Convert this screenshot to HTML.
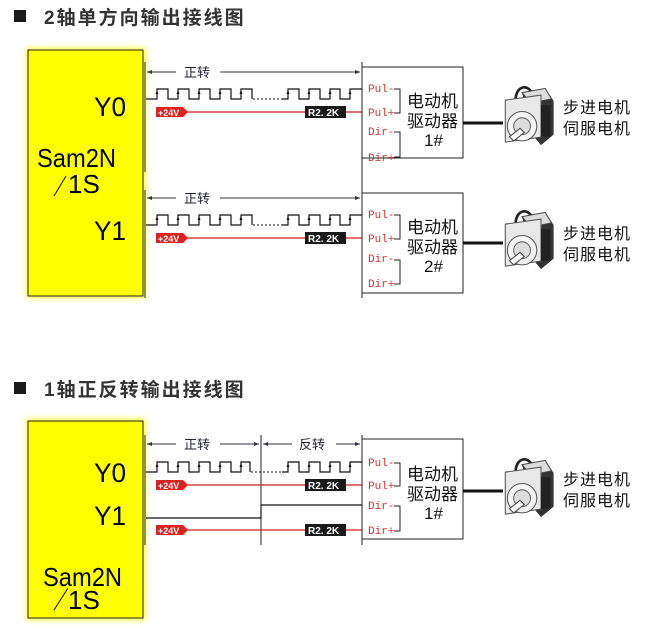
<!DOCTYPE html>
<html><head><meta charset="utf-8">
<style>
html,body{margin:0;padding:0;background:#fff;}
svg{display:block;}
.t{font-family:"Liberation Sans","Noto Sans CJK SC",sans-serif;}
.m{font-family:"Liberation Mono","Noto Sans CJK SC",monospace;}
</style></head><body>
<svg width="660" height="628" viewBox="0 0 660 628" xmlns="http://www.w3.org/2000/svg">
<defs>
<filter id="glow" x="-20%" y="-20%" width="140%" height="140%"><feGaussianBlur stdDeviation="3"/></filter>
<g id="motor">
  <path d="M16 22 C14 6 28 2 32 14" fill="none" stroke="#222" stroke-width="2.5"/>
  <path d="M22 12 L44 8 L52 20 L52 52 L40 62 L30 50 Z" fill="#333"/>
  <path d="M22 12 L44 8 L50 18 L30 22 Z" fill="#ddd" stroke="#444"/>
  <rect x="6" y="20" width="34" height="40" fill="#e8e8e8" stroke="#555" transform="skewY(-8)"/>
  <circle cx="22" cy="44" r="14" fill="#f4f4f4" stroke="#555"/>
  <circle cx="22" cy="44" r="8" fill="#ddd" stroke="#666"/>
  <path d="M10 54 L20 46 L24 50 L14 58 Z" fill="#fff" stroke="#444"/>
  <rect x="40" y="24" width="9" height="30" fill="#222"/>
</g>
</defs>

<rect x="14" y="10" width="12" height="12" fill="#1a1a1a"/>
<text class="t" x="44" y="24" font-size="19" fill="#333" letter-spacing="2" font-weight="bold">2轴单方向输出接线图</text>
<rect x="14" y="382" width="12" height="12" fill="#1a1a1a"/>
<text class="t" x="44" y="396" font-size="19" fill="#333" letter-spacing="2" font-weight="bold">1轴正反转输出接线图</text>

<!-- ======= Diagram 1 ======= -->
<rect x="26" y="48" width="119" height="250" fill="#ffff30" filter="url(#glow)"/>
<rect x="28" y="50" width="115" height="246" fill="#ffff00" stroke="#222" stroke-width="1"/>
<text class="t" x="94" y="116" font-size="27" fill="#000" textLength="32" lengthAdjust="spacingAndGlyphs">Y0</text>
<text class="t" x="94" y="240" font-size="27" fill="#000" textLength="32" lengthAdjust="spacingAndGlyphs">Y1</text>
<text class="t" x="37" y="167" font-size="26" fill="#000" textLength="79" lengthAdjust="spacingAndGlyphs">Sam2N</text>
<text class="t" x="68" y="193" font-size="26" fill="#000">1S</text>
<line x1="54" y1="196" x2="66" y2="176" stroke="#000" stroke-width="1"/>

<line x1="145" y1="62" x2="145" y2="172" stroke="#222"/>
<line x1="145" y1="190" x2="145" y2="298" stroke="#222"/>
<line x1="362" y1="62" x2="362" y2="298" stroke="#222"/>

<g>
<line x1="147" y1="72" x2="176" y2="72" stroke="#334" /><path d="M147 72 l5 -2 v4 z" fill="#334"/>
<text class="t" x="184" y="77" font-size="13" fill="#223">正转</text>
<line x1="220" y1="72" x2="360" y2="72" stroke="#334"/><path d="M360 72 l-5 -2 v4 z" fill="#334"/>
<path d="M146 99 H157 V89 H168 V99 H178 V89 H189 V99 H199 V89 H210 V99 H220 V89 H231 V99 H241 V89 H252 V99" fill="none" stroke="#111" stroke-width="1.2"/>
<line x1="253" y1="99" x2="288" y2="99" stroke="#111" stroke-dasharray="2 2"/>
<path d="M282 99 H288 V89 H299 V99 H309 V89 H320 V99 H330 V89 H340 V99 H350 V89 H362" fill="none" stroke="#111" stroke-width="1.2"/>
<g fill="#111"><path d="M157 90 l-1.5 4 h3z"/><path d="M178 90 l-1.5 4 h3z"/><path d="M199 90 l-1.5 4 h3z"/><path d="M220 90 l-1.5 4 h3z"/><path d="M241 90 l-1.5 4 h3z"/><path d="M288 90 l-1.5 4 h3z"/><path d="M309 90 l-1.5 4 h3z"/><path d="M330 90 l-1.5 4 h3z"/><path d="M350 90 l-1.5 4 h3z"/></g>
<line x1="185" y1="112" x2="362" y2="112" stroke="#c22" stroke-width="1.2"/>
<path d="M156 107 H183 L188 112 L183 117 H156 Z" fill="#d22"/>
<text class="t" x="158" y="116" font-size="9" font-weight="bold" fill="#fff">+24V</text>
<rect x="305" y="106" width="41" height="12" fill="#1a1a1a"/>
<text class="t" x="308" y="116" font-size="10" font-weight="bold" fill="#fff">R2. 2K</text>
</g>

<g>
<rect x="362" y="67" width="101" height="91" fill="#fff" stroke="#222"/>
<text class="m" x="368" y="92" font-size="11" fill="#c33">Pul-</text>
<text class="m" x="368" y="116" font-size="11" fill="#c33">Pul+</text>
<text class="m" x="368" y="135" font-size="11" fill="#c33">Dir-</text>
<text class="m" x="368" y="161" font-size="11" fill="#c33">Dir+</text>
<path d="M394 89 H400 V113 H394 M394 132 H400 V157 H394" fill="none" stroke="#222"/>
<text class="t" x="407" y="107" font-size="17" fill="#111">电动机</text>
<text class="t" x="407" y="127" font-size="17" fill="#111">驱动器</text>
<text class="t" x="424" y="146" font-size="17" fill="#111">1#</text>
<line x1="463" y1="123" x2="503" y2="123" stroke="#111" stroke-width="3"/>
<use href="#motor" transform="translate(499,80) scale(1.05)"/>
<text class="t" x="563" y="113" font-size="16" fill="#111" letter-spacing="1">步进电机</text>
<text class="t" x="563" y="134" font-size="16" fill="#111" letter-spacing="1">伺服电机</text>
</g>

<g transform="translate(0,126)">
<line x1="147" y1="72" x2="176" y2="72" stroke="#334" /><path d="M147 72 l5 -2 v4 z" fill="#334"/>
<text class="t" x="184" y="77" font-size="13" fill="#223">正转</text>
<line x1="220" y1="72" x2="360" y2="72" stroke="#334"/><path d="M360 72 l-5 -2 v4 z" fill="#334"/>
<path d="M146 99 H157 V89 H168 V99 H178 V89 H189 V99 H199 V89 H210 V99 H220 V89 H231 V99 H241 V89 H252 V99" fill="none" stroke="#111" stroke-width="1.2"/>
<line x1="253" y1="99" x2="288" y2="99" stroke="#111" stroke-dasharray="2 2"/>
<path d="M282 99 H288 V89 H299 V99 H309 V89 H320 V99 H330 V89 H340 V99 H350 V89 H362" fill="none" stroke="#111" stroke-width="1.2"/>
<g fill="#111"><path d="M157 90 l-1.5 4 h3z"/><path d="M178 90 l-1.5 4 h3z"/><path d="M199 90 l-1.5 4 h3z"/><path d="M220 90 l-1.5 4 h3z"/><path d="M241 90 l-1.5 4 h3z"/><path d="M288 90 l-1.5 4 h3z"/><path d="M309 90 l-1.5 4 h3z"/><path d="M330 90 l-1.5 4 h3z"/><path d="M350 90 l-1.5 4 h3z"/></g>
<line x1="185" y1="112" x2="362" y2="112" stroke="#c22" stroke-width="1.2"/>
<path d="M156 107 H183 L188 112 L183 117 H156 Z" fill="#d22"/>
<text class="t" x="158" y="116" font-size="9" font-weight="bold" fill="#fff">+24V</text>
<rect x="305" y="106" width="41" height="12" fill="#1a1a1a"/>
<text class="t" x="308" y="116" font-size="10" font-weight="bold" fill="#fff">R2. 2K</text>
<rect x="362" y="67" width="101" height="100" fill="#fff" stroke="#222"/>
<text class="m" x="368" y="92" font-size="11" fill="#c33">Pul-</text>
<text class="m" x="368" y="116" font-size="11" fill="#c33">Pul+</text>
<text class="m" x="368" y="136" font-size="11" fill="#c33">Dir-</text>
<text class="m" x="368" y="161" font-size="11" fill="#c33">Dir+</text>
<path d="M394 89 H400 V113 H394 M394 134 H400 V158 H394" fill="none" stroke="#222"/>
<text class="t" x="407" y="107" font-size="17" fill="#111">电动机</text>
<text class="t" x="407" y="127" font-size="17" fill="#111">驱动器</text>
<text class="t" x="424" y="146" font-size="17" fill="#111">2#</text>
<line x1="463" y1="117" x2="503" y2="117" stroke="#111" stroke-width="3"/>
<use href="#motor" transform="translate(499,78) scale(1.05)"/>
<text class="t" x="563" y="113" font-size="16" fill="#111" letter-spacing="1">步进电机</text>
<text class="t" x="563" y="134" font-size="16" fill="#111" letter-spacing="1">伺服电机</text>
</g>

<!-- ======= Diagram 2 ======= -->
<rect x="26" y="419" width="119" height="201" fill="#ffff30" filter="url(#glow)"/>
<rect x="28" y="421" width="115" height="197" fill="#ffff00" stroke="#222"/>
<text class="t" x="94" y="482" font-size="27" fill="#000" textLength="32" lengthAdjust="spacingAndGlyphs">Y0</text>
<text class="t" x="94" y="525" font-size="27" fill="#000" textLength="32" lengthAdjust="spacingAndGlyphs">Y1</text>
<text class="t" x="43" y="586" font-size="26" fill="#000" textLength="79" lengthAdjust="spacingAndGlyphs">Sam2N</text>
<text class="t" x="68" y="609" font-size="26" fill="#000">1S</text>
<line x1="54" y1="610" x2="68" y2="588" stroke="#000"/>

<line x1="145" y1="435" x2="145" y2="545" stroke="#222"/>
<line x1="261" y1="435" x2="261" y2="545" stroke="#222"/>
<line x1="362" y1="435" x2="362" y2="545" stroke="#222"/>

<line x1="147" y1="444" x2="176" y2="444" stroke="#334"/><path d="M147 444 l5 -2 v4 z" fill="#334"/>
<text class="t" x="184" y="449" font-size="13" fill="#223">正转</text>
<line x1="220" y1="444" x2="259" y2="444" stroke="#334"/><path d="M259 444 l-5 -2 v4 z" fill="#334"/>
<line x1="263" y1="444" x2="292" y2="444" stroke="#334"/><path d="M263 444 l5 -2 v4 z" fill="#334"/>
<text class="t" x="299" y="449" font-size="13" fill="#223">反转</text>
<line x1="336" y1="444" x2="360" y2="444" stroke="#334"/><path d="M360 444 l-5 -2 v4 z" fill="#334"/>

<path d="M146 472 H157 V462 H168 V472 H178 V462 H189 V472 H199 V462 H210 V472 H220 V462 H231 V472 H241 V462 H250 V472" fill="none" stroke="#111" stroke-width="1.2"/>
<line x1="251" y1="472" x2="288" y2="472" stroke="#111" stroke-dasharray="2 2"/>
<path d="M282 472 H288 V462 H299 V472 H309 V462 H320 V472 H330 V462 H340 V472 H350 V462 H362" fill="none" stroke="#111" stroke-width="1.2"/>
<g fill="#111"><path d="M157 463 l-1.5 4 h3z"/><path d="M178 463 l-1.5 4 h3z"/><path d="M199 463 l-1.5 4 h3z"/><path d="M220 463 l-1.5 4 h3z"/><path d="M241 463 l-1.5 4 h3z"/><path d="M288 463 l-1.5 4 h3z"/><path d="M309 463 l-1.5 4 h3z"/><path d="M330 463 l-1.5 4 h3z"/><path d="M350 463 l-1.5 4 h3z"/></g>

<line x1="185" y1="485" x2="362" y2="485" stroke="#c22" stroke-width="1.2"/>
<path d="M156 480 H183 L188 485 L183 490 H156 Z" fill="#d22"/>
<text class="t" x="158" y="489" font-size="9" font-weight="bold" fill="#fff">+24V</text>
<rect x="305" y="479" width="41" height="12" fill="#1a1a1a"/>
<text class="t" x="308" y="489" font-size="10" font-weight="bold" fill="#fff">R2. 2K</text>

<path d="M146 518 H261 V505 H362" fill="none" stroke="#111" stroke-width="1.2"/>

<line x1="185" y1="530" x2="362" y2="530" stroke="#c22" stroke-width="1.2"/>
<path d="M156 525 H183 L188 530 L183 535 H156 Z" fill="#d22"/>
<text class="t" x="158" y="534" font-size="9" font-weight="bold" fill="#fff">+24V</text>
<rect x="305" y="524" width="41" height="12" fill="#1a1a1a"/>
<text class="t" x="308" y="534" font-size="10" font-weight="bold" fill="#fff">R2. 2K</text>

<rect x="362" y="439" width="101" height="100" fill="#fff" stroke="#222"/>
<text class="m" x="368" y="466" font-size="11" fill="#c33">Pul-</text>
<text class="m" x="368" y="489" font-size="11" fill="#c33">Pul+</text>
<text class="m" x="368" y="509" font-size="11" fill="#c33">Dir-</text>
<text class="m" x="368" y="534" font-size="11" fill="#c33">Dir+</text>
<path d="M394 463 H400 V486 H394 M394 506 H400 V531 H394" fill="none" stroke="#222"/>
<text class="t" x="407" y="480" font-size="17" fill="#111">电动机</text>
<text class="t" x="407" y="500" font-size="17" fill="#111">驱动器</text>
<text class="t" x="424" y="519" font-size="17" fill="#111">1#</text>
<line x1="463" y1="491" x2="503" y2="491" stroke="#111" stroke-width="3"/>
<use href="#motor" transform="translate(499,452) scale(1.05)"/>
<text class="t" x="563" y="485" font-size="16" fill="#111" letter-spacing="1">步进电机</text>
<text class="t" x="563" y="506" font-size="16" fill="#111" letter-spacing="1">伺服电机</text>
</svg>
</body></html>
